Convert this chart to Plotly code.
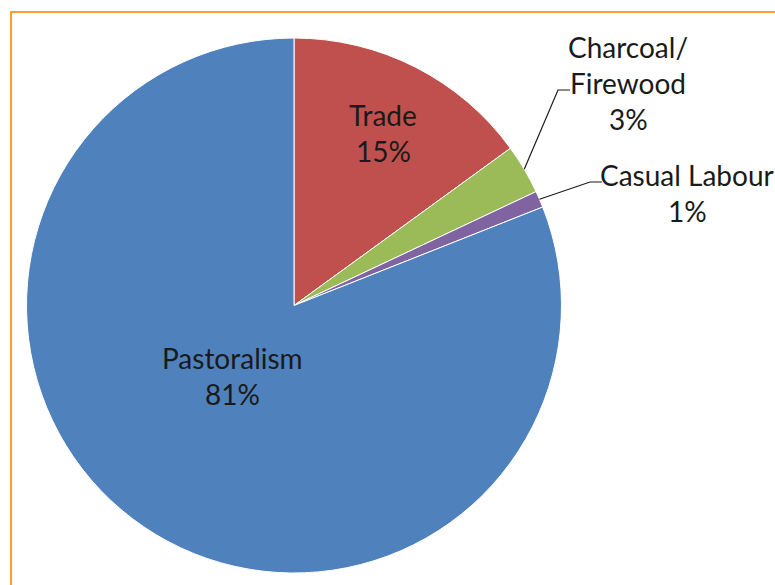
import math
import plotly.graph_objects as go

categories = ["Trade", "Charcoal/<br>Firewood", "Casual Labour", "Pastoralism"]
label_lines = [["Trade", "15%"], ["Charcoal/", "Firewood", "3%"], ["Casual Labour", "1%"], ["Pastoralism", "81%"]]
values = [15, 3, 1, 81]
colors = ["#C0504D", "#9BBB59", "#8064A2", "#4F81BD"]

W, H = 775, 585
cx, cy, R = 294, 305.5, 267.5

fig = go.Figure(go.Pie(
    labels=categories, values=values, sort=False, direction="clockwise", rotation=0,
    marker=dict(colors=colors, line=dict(color="white", width=1)),
    textinfo="none", hoverinfo="label+percent", showlegend=False,
    domain=dict(x=[(cx - R) / W, (cx + R) / W], y=[1 - (cy + R) / H, 1 - (cy - R) / H]),
))

def px(x, y):
    return x / W, 1 - y / H

font = dict(family="Lato, 'Open Sans', sans-serif", size=28, color="#1a1a1a")
# label anchor centres (pixels) and line spacing
label_pos = [(383, 115), (628, 47), (687, 175), (232, 358)]
spacing = 36
ann = []
for lines, (lx, ly) in zip(label_lines, label_pos):
    for i, t in enumerate(lines):
        x, y = px(lx, ly + i * spacing)
        ann.append(dict(x=x, y=y, xref="paper", yref="paper", text=t, showarrow=False,
                        font=font, xanchor="center", yanchor="middle"))

# leader lines for small slices, start from the slice mid-angle on the rim
total = sum(values)
cum = 0
mids = []
for v in values:
    mids.append((cum + v / 2) / total * 2 * math.pi)
    cum += v
shapes = []
leaders = {1: [(558, 90), (570, 90)], 2: [(590, 182), (602, 182)]}
for idx, pts in leaders.items():
    a = mids[idx]
    sx, sy = cx + R * math.sin(a), cy - R * math.cos(a)
    path_pts = [(sx, sy)] + pts
    d = "M " + " L ".join(f"{px(x, y)[0]},{px(x, y)[1]}" for x, y in path_pts)
    shapes.append(dict(type="path", xref="paper", yref="paper", path=d,
                       line=dict(color="#1a1a1a", width=1.2)))

# orange chart frame
shapes.append(dict(type="rect", xref="paper", yref="paper",
                   x0=11 / W, y0=-0.05, x1=1.05, y1=1 - 12 / H,
                   line=dict(color="#F7A030", width=2)))

fig.update_layout(width=W, height=H, margin=dict(l=0, r=0, t=0, b=0),
                  paper_bgcolor="white", plot_bgcolor="white",
                  annotations=ann, shapes=shapes)
fig.write_html("out.html")
